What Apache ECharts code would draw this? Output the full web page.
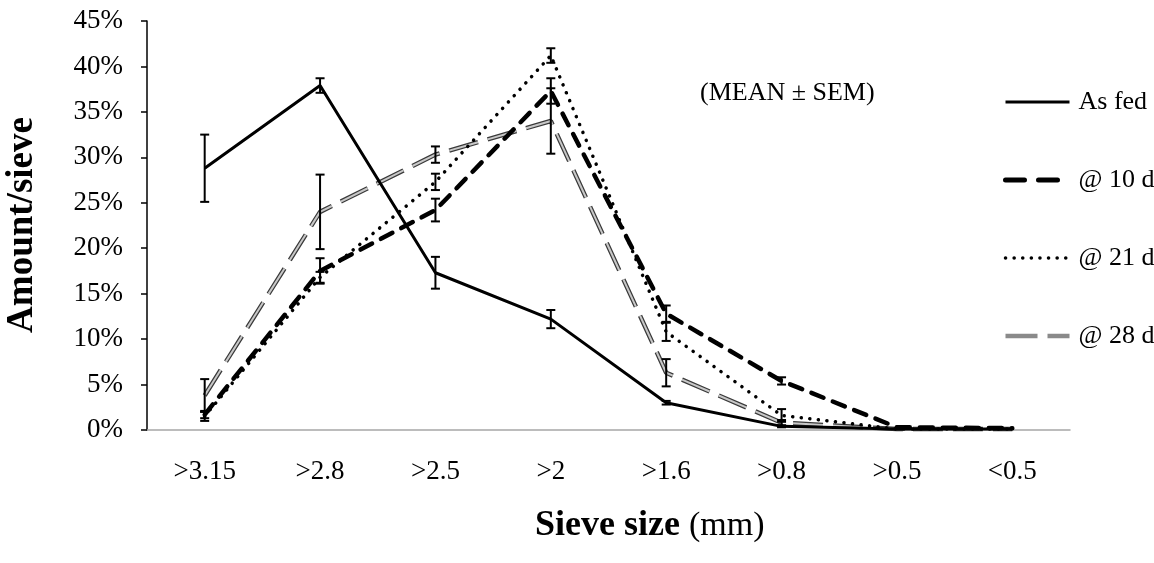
<!DOCTYPE html>
<html>
<head>
<meta charset="utf-8">
<script src="https://cdn.jsdelivr.net/npm/echarts@6/dist/echarts.min.js"></script>
<style>html,body{margin:0;padding:0;background:#fff;}#c{width:1154px;height:563px;}</style>
</head>
<body>
<div id="c"></div>
<script>
const categories = ['>3.15', '>2.8', '>2.5', '>2', '>1.6', '>0.8', '>0.5', '<0.5'];
const yTicks = [0, 5, 10, 15, 20, 25, 30, 35, 40, 45];
const asFed = [28.8, 37.9, 17.3, 12.2, 3.0, 0.4, 0.1, 0.1];
const asFedSem = [3.7, 0.8, 1.75, 1.0, 0.2, 0.1, 0, 0];
const d10 = [1.7, 17.5, 24.2, 37.3, 12.8, 5.4, 0.3, 0.2];
const d10Sem = [0.4, 1.4, 1.25, 1.4, 0.9, 0.4, 0, 0];
const d21 = [1.5, 16.8, 27.3, 41.2, 10.8, 1.6, 0.1, 0.1];
const d21Sem = [0.5, 0.6, 0.9, 0.8, 1.0, 0.7, 0, 0];
const d28 = [3.8, 24.0, 30.3, 34.0, 6.3, 0.8, 0.1, 0.1];
const d28Sem = [1.8, 4.1, 0.9, 3.6, 1.5, 0.3, 0, 0];
const seriesNames = ['As fed', '@ 10 d', '@ 21 d', '@ 28 d'];

const FONT = '"Liberation Serif", "Times New Roman", serif';

function errData(vals, sems) {
  const out = [];
  vals.forEach((v, i) => { if (sems[i] > 0) out.push([i, v - sems[i], v + sems[i]]); });
  return out;
}
function errSeries(vals, sems) {
  return {
    type: 'custom', silent: true, z: 5,
    data: errData(vals, sems),
    encode: { x: 0, y: [1, 2] },
    renderItem: function (params, api) {
      const x = api.value(0);
      const lo = api.coord([x, api.value(1)]);
      const hi = api.coord([x, api.value(2)]);
      const w = 4.5;
      const st = { stroke: '#000', lineWidth: 2 };
      return {
        type: 'group',
        children: [
          { type: 'line', shape: { x1: lo[0], y1: lo[1], x2: hi[0], y2: hi[1] }, style: st },
          { type: 'line', shape: { x1: lo[0] - w, y1: lo[1], x2: lo[0] + w, y2: lo[1] }, style: st },
          { type: 'line', shape: { x1: hi[0] - w, y1: hi[1], x2: hi[0] + w, y2: hi[1] }, style: st }
        ]
      };
    }
  };
}

const chart = echarts.init(document.getElementById('c'), null, { renderer: 'canvas' });
chart.setOption({
  animation: false,
  backgroundColor: '#fff',
  color: ['#000', '#000', '#000', '#808080', '#808080'],
  grid: { left: 147, right: 84, top: 21, bottom: 133 },
  xAxis: {
    type: 'category', data: categories, boundaryGap: true,
    axisLine: { lineStyle: { color: '#a6a6a6', width: 1.5 } },
    axisTick: { length: 7, lineStyle: { color: '#a6a6a6', width: 1.5 } },
    axisLabel: { color: '#000', fontFamily: FONT, fontSize: 27, margin: 28 },
    splitLine: { show: false }
  },
  yAxis: {
    type: 'value', min: yTicks[0], max: yTicks[yTicks.length - 1], interval: 5,
    axisLine: { show: true, lineStyle: { color: '#000', width: 1.5 } },
    axisTick: { show: true, length: 6, lineStyle: { color: '#000', width: 1.5 } },
    axisLabel: { color: '#000', fontFamily: FONT, fontSize: 27, margin: 24, formatter: '{value}%' },
    splitLine: { show: false }
  },
  legend: {
    orient: 'vertical', left: 998, top: 84,
    itemWidth: 64, itemHeight: 14, itemGap: 52,
    itemStyle: { opacity: 0 },
    textStyle: { fontFamily: FONT, fontSize: 26, color: '#000', lineHeight: 26, padding: [0, 0, 0, 4] },
    data: [
      { name: 'As fed', lineStyle: { color: '#000', width: 3, type: 'solid' } },
      { name: '@ 10 d', lineStyle: { color: '#000', width: 5, type: [19, 14], cap: 'round' } },
      { name: '@ 21 d', lineStyle: { color: '#000', width: 3.5, type: [0.1, 8.5], cap: 'round' } },
      { name: '@ 28 d', lineStyle: { color: '#8a8a8a', width: 4.5, type: [32, 10] } }
    ]
  },
  graphic: [
    { type: 'text', left: 700, top: 80, style: { text: '(MEAN \u00B1 SEM)', font: '26px ' + FONT, fill: '#000' } },
    { type: 'text', left: 535, top: 508, style: {
        text: '{b|Sieve size }{r|(mm)}', fill: '#000',
        rich: { b: { fontFamily: FONT, fontSize: 36, fontWeight: 'bold' }, r: { fontFamily: FONT, fontSize: 34 } }
    } },
    { type: 'text', x: 22, y: 225, rotation: Math.PI / 2, style: {
        text: 'Amount/sieve', font: 'bold 37px ' + FONT, fill: '#000', align: 'center', verticalAlign: 'middle'
    } }
  ],
  series: [
    { name: seriesNames[0], type: 'line', data: asFed, symbol: 'none', z: 3,
      itemStyle: { color: '#000' },
      lineStyle: { color: '#000', width: 3, type: 'solid' } },
    { name: seriesNames[1], type: 'line', data: d10, symbol: 'none', z: 3,
      itemStyle: { color: '#000' },
      lineStyle: { color: '#000', width: 4.5, type: [13, 10], cap: 'round' } },
    { name: seriesNames[2], type: 'line', data: d21, symbol: 'none', z: 3,
      itemStyle: { color: '#000' },
      lineStyle: { color: '#000', width: 3.5, type: [0.1, 8.5], cap: 'round' } },
    { name: seriesNames[3], type: 'line', data: d28, symbol: 'none', z: 2,
      itemStyle: { color: '#808080' },
      lineStyle: { color: '#3a3a3a', width: 4.5, type: [30, 10] } },
    { name: seriesNames[3], type: 'line', data: d28, symbol: 'none', z: 2,
      itemStyle: { color: '#808080' },
      lineStyle: { color: '#c8c8c8', width: 2, type: [30, 10] } },
    errSeries(asFed, asFedSem),
    errSeries(d10, d10Sem),
    errSeries(d21, d21Sem),
    errSeries(d28, d28Sem)
  ]
});
</script>
</body>
</html>
